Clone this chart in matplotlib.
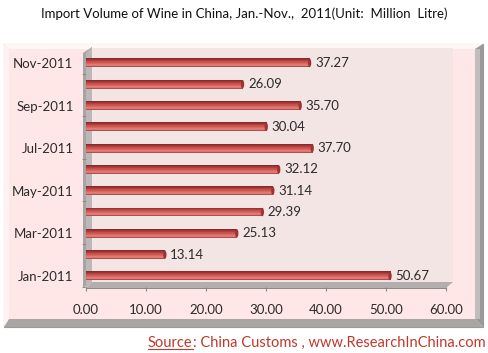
import numpy as np
import matplotlib
matplotlib.use("Agg")
import matplotlib.pyplot as plt
from matplotlib.patches import Polygon, Ellipse
from matplotlib.lines import Line2D
from matplotlib.colors import LinearSegmentedColormap

# datos (Jan -> Nov)
meses = ["Jan-2011", "Feb-2011", "Mar-2011", "Apr-2011", "May-2011", "Jun-2011",
         "Jul-2011", "Aug-2011", "Sep-2011", "Oct-2011", "Nov-2011"]
volumes = [50.67, 13.14, 25.13, 29.39, 31.14, 32.12, 37.70, 30.04, 35.70, 26.09, 37.27]
xticks = [0, 10, 20, 30, 40, 50, 60]

titulo = "Import Volume of Wine in China, Jan.-Nov.,  2011(Unit:  Million  Litre)"
fonte = ["Source", ": China Customs , www.ResearchInChina.com"]

W, H = 489, 353
plt.rcParams['font.family'] = ['Lato', 'DejaVu Sans']

fig = plt.figure(figsize=(W / 100, H / 100), dpi=100)
fig.patch.set_facecolor("white")


def px(x, y):
    """pixel -> fração da figura"""
    return (x / W, 1 - y / H)


def poly(pts, cor, z, **kw):
    p = Polygon([px(*p) for p in pts], closed=True, facecolor=cor,
                edgecolor=kw.pop("ec", "none"), lw=kw.pop("lw", 0),
                transform=fig.transFigure, zorder=z, **kw)
    fig.patches.append(p)
    return p


# moldura chanfrada
x0, y0, x1, y1, b = 4, 44, 483, 327, 8
poly([(x0, y0), (x1, y0), (x1, y1), (x0, y1)], "#FFE7E7", -10, ec="#9A9A9A", lw=0.8)
poly([(x0, y0), (x1, y0), (x1 - b, y0 + 5), (x0 + 5, y0 + 5)], "#FFF6F6", -9)
poly([(x0, y0), (x0 + 5, y0 + 5), (x0 + 5, y1 - b), (x0, y1)], "#FFF2F2", -9)
poly([(x1, y0), (x1, y1), (x1 - b, y1 - b), (x1 - b, y0 + 5)], "#9C9898", -9)
poly([(x0, y1), (x0 + 5, y1 - b), (x1 - b, y1 - b), (x1, y1)], "#A9A5A5", -9)
poly([(x1 - b, y0 + 5), (x1 - 3, y0 + 5), (x1 - 3, y1 - b), (x1 - b, y1 - b)], "#C2BDBD", -8.5)

# parede do fundo, parede lateral e chão
poly([(92, 48), (453, 48), (453, 282), (92, 282)], "#F4E5E5", -8)
poly([(83, 53), (92, 47), (92, 282), (83, 288)], "#A8A4A4", -7)
poly([(86, 53), (92, 47), (92, 282), (86, 288)], "#BDB8B8", -7)
poly([(86, 288), (446, 288), (453, 282), (92, 282)], "#B3AFAF", -7)
poly([(86, 288), (446, 288), (446, 289), (86, 289)], "#8E8A8A", -7)

# eixos
ax = fig.add_axes([86 / W, 1 - 287 / H, (453 - 86) / W, (287 - 48) / H])
ax.patch.set_alpha(0)
for s in ax.spines.values():
    s.set_visible(False)

y = np.arange(len(meses))
h = 0.42
barras = ax.barh(y, volumes, height=h, color="#C0504D", zorder=3)

grad = LinearSegmentedColormap.from_list(
    "cil", ["#A23a38", "#E98A86", "#DA615D", "#C8504C", "#A43936", "#7E2826"])
g = np.linspace(0, 1, 64).reshape(-1, 1)
for bar in barras:
    bx, by = bar.get_x(), bar.get_y()
    bw, bh = bar.get_width(), bar.get_height()
    im = ax.imshow(g, cmap=grad, aspect="auto", extent=(bx, bx + bw, by + bh, by),
                   zorder=4, interpolation="bilinear")
    im.set_clip_path(bar)
    # tampa arredondada
    ax.add_patch(Ellipse((bx + bw, by + bh / 2), 0.55, bh * 0.95,
                         facecolor="#9E3331", edgecolor="none", zorder=5))

for yi, v in zip(y, volumes):
    ax.text(v + 0.9, yi, f"{v:.2f}", va="center", ha="left", fontsize=9.5,
            color="#2b2b2b", zorder=6)

ax.set_xlim(0, 60 * 367 / 360)
ax.set_ylim(-0.52, 10.7)
ax.set_xticks(xticks)
ax.set_xticklabels([f"{t:.2f}" for t in xticks], fontsize=9.5, color="#2b2b2b")
ax.tick_params(axis="x", length=3, color="#888888", pad=9)

ax.set_yticks(y[::2])
ax.set_yticklabels(meses[::2], fontsize=9.5, color="#2b2b2b")
ax.set_yticks(np.arange(-0.5, 10, 2), minor=True)
ax.tick_params(axis="y", which="major", length=0, pad=9)
ax.tick_params(axis="y", which="minor", length=3, color="#888888", pad=0)

fig.text(0.5, 1 - 14 / H, titulo, ha="center", va="center", fontsize=9.5, color="#111111")

# fonte
t1 = fig.text(148 / W, 1 - 343 / H, fonte[0], ha="left", va="center", fontsize=10.5,
              color="#C0392B")
fig.canvas.draw()
bb = t1.get_window_extent()
fig.text(bb.x1 / W, 1 - 343 / H, fonte[1], ha="left", va="center", fontsize=10.5,
         color="#C0392B")
fig.lines.append(Line2D([bb.x0 / W, bb.x1 / W], [(bb.y0 + 1) / H] * 2,
                        transform=fig.transFigure, color="#C0392B", lw=0.8))

fig.savefig("out.png", dpi=100)
